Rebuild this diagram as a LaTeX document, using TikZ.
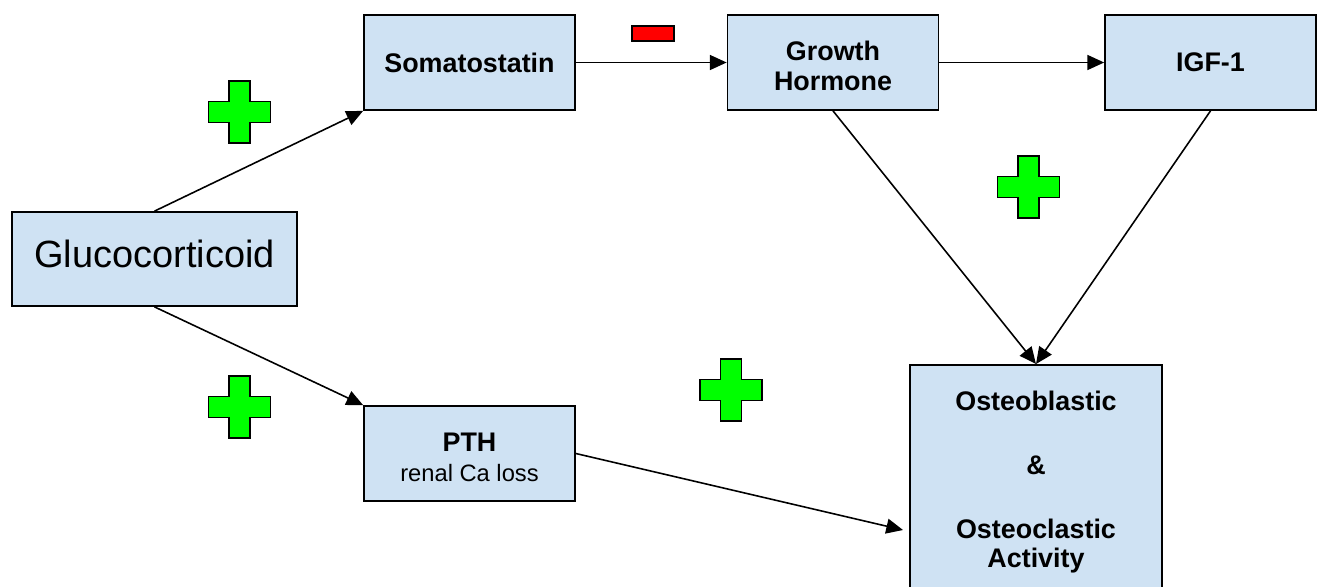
\documentclass[tikz,border=0pt]{standalone}
\usepackage{fontspec}
\setmainfont{Liberation Sans}
\usetikzlibrary{arrows.meta, positioning, calc}
\definecolor{boxblue}{RGB}{207, 226, 243}
\definecolor{plusgreen}{RGB}{0, 255, 0}
\definecolor{minusred}{RGB}{255, 0, 0}
\newcommand{\topstrut}{\rule{0pt}{14.8pt}}
\tikzset{
  hormone/.style={draw=black, line width=1pt, fill=boxblue, minimum width=4.22cm,
    minimum height=1.9cm, align=center, font=\fontsize{15.3}{17.5}\selectfont\bfseries},
  effect/.style={-{Triangle[length=9.5pt, width=8.5pt]}, line width=0.9pt},
  plusmark/.pic={
    \draw[fill=plusgreen, line width=1.1pt] (-10.5,-31) -- (10.5,-31) -- (10.5,-10.5)
      -- (31,-10.5) -- (31,10.5) -- (10.5,10.5) -- (10.5,31) -- (-10.5,31)
      -- (-10.5,10.5) -- (-31,10.5) -- (-31,-10.5) -- (-10.5,-10.5) -- cycle;
  }
}

\begin{document}
\begin{tikzpicture}[x=0.02cm, y=-0.02cm]
  \clip (0,0) rectangle (1318,586);

  % Boxes
  \node[hormone, minimum width=5.7cm, minimum height=1.88cm,
    font=\fontsize{21.6}{25}\selectfont, text depth=5.7pt] (gluco) at (154.5,259) {Glucocorticoid};
  \node[hormone] (somato) at (469.5,62.5) {Somatostatin};
  \node[hormone] (gh) at (833,62.5) {\topstrut Growth\\Hormone};
  \node[hormone] (igf) at (1210.5,62.5) {IGF-1};
  \node[hormone] (pth) at (469.5,453.5) {\topstrut PTH\\{\fontsize{13.5}{15}\selectfont\mdseries renal Ca loss}};
  \node[hormone, minimum width=5.04cm, anchor=north, inner ysep=15pt,
    font=\fontsize{15.3}{16.4}\selectfont\bfseries] (osteo) at (1036,364)
    {Osteoblastic\\[20pt]\&\\[20pt]Osteoclastic\\Activity};
  \coordinate (pthend) at (903,530);

  % Connectors
  \draw[effect] (gluco.north) -- (somato.south west);
  \draw[effect] (gluco.south) -- (pth.north west);
  \draw[effect] (somato) -- (gh);
  \draw[effect] (gh) -- (igf);
  \draw[effect] (gh.south) -- (osteo.north);
  \draw[effect] (igf.south) -- (osteo.north);
  \draw[effect] (pth.east) -- (pthend);

  % Signs
  \pic at (239.5,112) {plusmark};
  \pic at (239.5,407) {plusmark};
  \pic at (1028.5,187) {plusmark};
  \pic at (731,390) {plusmark};
  \draw[fill=minusred, line width=1.1pt] (632,26) rectangle (674,41);
\end{tikzpicture}
\end{document}
